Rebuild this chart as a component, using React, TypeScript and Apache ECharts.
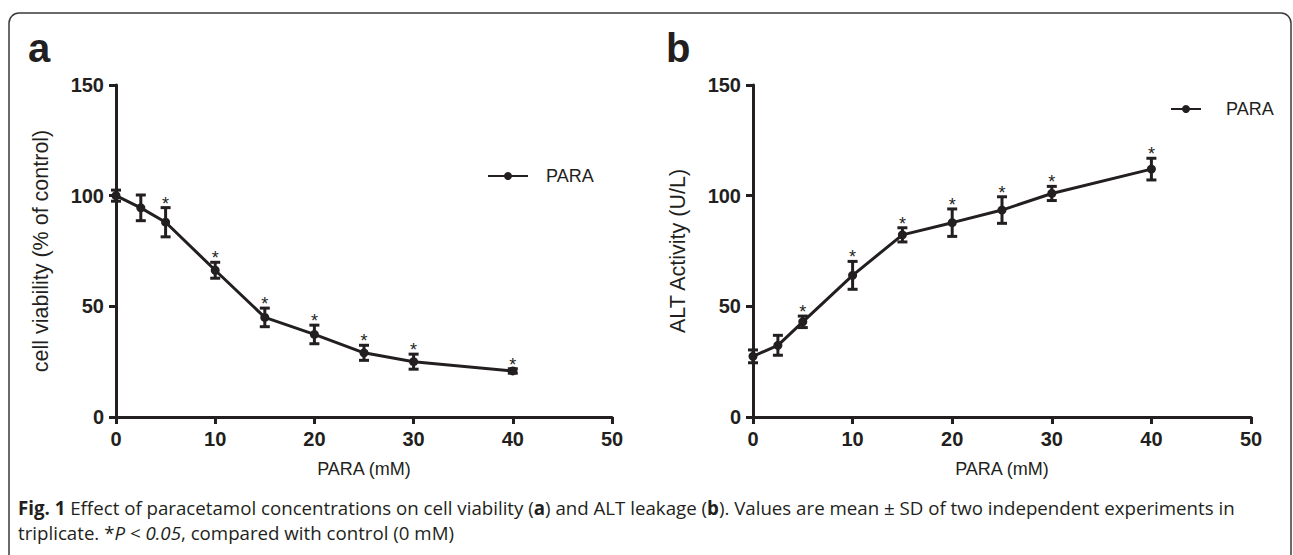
import React, { useEffect, useRef } from "react";
import * as echarts from "echarts";

const concentrations = [0, 2.5, 5, 10, 15, 20, 25, 30, 40];
const viabilityMean = [100, 94.5, 88, 66.3, 45, 37.3, 29, 25, 20.8];
const viabilitySD = [2.5, 5.8, 6.6, 3.6, 4.2, 4.2, 3.4, 3.4, 1];
const viabilitySig = [0, 0, 1, 1, 1, 1, 1, 1, 1];
const altMean = [27.4, 32.4, 43, 64, 82.3, 87.8, 93.5, 101, 112];
const altSD = [2.9, 4.5, 2.6, 6.3, 3.2, 6.2, 6, 3.2, 4.9];
const altSig = [0, 0, 1, 1, 1, 1, 1, 1, 1];
const xTicks = [0, 10, 20, 30, 40, 50];
const yTicks = [0, 50, 100, 150];

const INK = "#231f20";
const SANS = "Liberation Sans, Arial, sans-serif";

function errRender(params: any, api: any) {
  const x = api.value(0);
  const m = api.value(1);
  const sd = api.value(2);
  const sig = api.value(3);
  const top = api.coord([x, m + sd]);
  const bot = api.coord([x, m - sd]);
  const hw = 5;
  const style = { stroke: INK, lineWidth: 3 };
  const children: any[] = [
    { type: "line", shape: { x1: top[0], y1: top[1], x2: bot[0], y2: bot[1] }, style },
    { type: "line", shape: { x1: top[0] - hw, y1: top[1], x2: top[0] + hw, y2: top[1] }, style },
    { type: "line", shape: { x1: bot[0] - hw, y1: bot[1], x2: bot[0] + hw, y2: bot[1] }, style },
  ];
  if (sig) {
    children.push({
      type: "text",
      x: top[0],
      y: top[1] - 4,
      style: { text: "*", fill: INK, font: `18px ${SANS}`, align: "center", verticalAlign: "middle" },
    });
  }
  return { type: "group", children };
}

function axisPair(idx: number, yName: string) {
  const axisLine = { show: true, lineStyle: { color: INK, width: 3 } };
  const axisTick = { show: true, length: 7, lineStyle: { color: INK, width: 3 } };
  const label = { color: INK, fontSize: 20, fontWeight: "bold" as const, fontFamily: SANS };
  return {
    x: {
      type: "value",
      gridIndex: idx,
      min: xTicks[0],
      max: xTicks[xTicks.length - 1],
      interval: 10,
      axisLine,
      axisTick,
      splitLine: { show: false },
      axisLabel: { ...label, margin: 12 },
      name: "PARA (mM)",
      nameLocation: "middle",
      nameGap: 43,
      nameTextStyle: { color: INK, fontSize: 18, fontFamily: SANS },
    },
    y: {
      type: "value",
      gridIndex: idx,
      min: yTicks[0],
      max: yTicks[yTicks.length - 1],
      interval: 50,
      axisLine,
      axisTick,
      splitLine: { show: false },
      axisLabel: { ...label, margin: 12 },
      name: yName,
      nameLocation: "middle",
      nameGap: 64,
      nameTextStyle: { color: INK, fontSize: 21.5, fontFamily: SANS },
    },
  };
}

export default function App() {
  const ref = useRef<HTMLDivElement>(null);
  useEffect(() => {
    const chart = echarts.init(ref.current!, null, { renderer: "svg" });
    const a = axisPair(0, "cell viability (% of control)");
    const b = axisPair(1, "ALT Activity (U/L)");
    const lineSeries = (idx: number, ys: number[]) => ({
      name: "PARA",
      type: "line",
      xAxisIndex: idx,
      yAxisIndex: idx,
      data: concentrations.map((c, i) => [c, ys[i]]),
      symbol: "circle",
      symbolSize: 9,
      lineStyle: { color: INK, width: 3 },
      itemStyle: { color: INK },
      z: 2,
    });
    const errSeries = (idx: number, ys: number[], sd: number[], sig: number[]) => ({
      name: "err" + idx,
      type: "custom",
      xAxisIndex: idx,
      yAxisIndex: idx,
      data: concentrations.map((c, i) => [c, ys[i], sd[i], sig[i]]),
      renderItem: errRender,
      z: 3,
      silent: true,
    });
    const legend = (left: number, top: number, w: number, gap: number) => ({
      data: ["PARA"],
      left,
      top,
      padding: 0,
      itemWidth: w,
      itemHeight: 10,
      selectedMode: false,
      textStyle: { color: INK, fontSize: 18, fontFamily: SANS, padding: [0, 0, 0, gap] },
    });
    chart.setOption({
      animation: false,
      backgroundColor: "#ffffff",
      grid: [
        { left: 116, top: 85, width: 496, height: 332 },
        { left: 753, top: 85, width: 498, height: 332 },
      ],
      xAxis: [a.x, b.x],
      yAxis: [a.y, b.y],
      legend: [legend(487, 167, 40, 13), legend(1170, 100, 30, 20)],
      series: [
        lineSeries(0, viabilityMean),
        errSeries(0, viabilityMean, viabilitySD, viabilitySig),
        lineSeries(1, altMean),
        errSeries(1, altMean, altSD, altSig),
      ],
      graphic: [
        {
          type: "rect",
          shape: { x: 9, y: 13, width: 1282, height: 600, r: [10, 10, 0, 0] },
          style: { fill: "none", stroke: "#3a3a3a", lineWidth: 1.5 },
          silent: true,
        },
        { type: "text", left: 28, top: 28, style: { text: "a", fill: INK, font: `bold 40px ${SANS}` } },
        { type: "text", left: 666, top: 28, style: { text: "b", fill: INK, font: `bold 40px ${SANS}` } },
        {
          type: "text",
          left: 18,
          top: 495,
          style: {
            text:
              "{b|Fig. 1} Effect of paracetamol concentrations on cell viability ({b|a}) and ALT leakage ({b|b}). Values are mean ± SD of two independent experiments in\ntriplicate. *{i|P < 0.05}, compared with control (0 mM)",
            fill: INK,
            font: `18.7px "Open Sans", sans-serif`,
            lineHeight: 25,
            rich: {
              b: { fontWeight: "bold", fontSize: 18.7, fontFamily: "Open Sans", fill: INK, lineHeight: 25 },
              i: { fontStyle: "italic", fontSize: 18.7, fontFamily: "Open Sans", fill: INK, lineHeight: 25 },
            },
          },
        },
      ],
    });
    return () => chart.dispose();
  }, []);
  return (
    <div
      ref={ref}
      style={{ position: "fixed", left: 0, top: 0, width: 1293, height: 555, background: "#fff" }}
    />
  );
}
